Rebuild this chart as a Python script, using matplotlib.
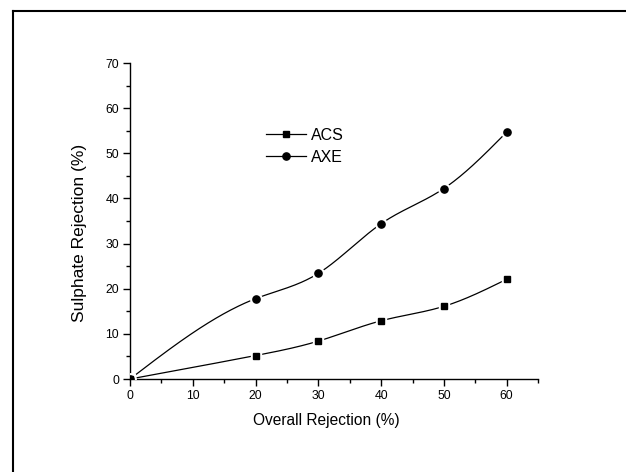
import numpy as np
import matplotlib
matplotlib.use("Agg")
import matplotlib.pyplot as plt
from matplotlib.lines import Line2D
from matplotlib.ticker import MultipleLocator

overall = [0, 20, 30, 40, 50, 60]
acs = [0, 5.2, 8.4, 12.9, 16.1, 22.1]
axe = [0, 17.8, 23.4, 34.4, 42.2, 54.7]
series_names = ["ACS", "AXE"]
xlabel = "Overall Rejection (%)"
ylabel = "Sulphate Rejection (%)"

plt.rcParams['font.family'] = ['Liberation Sans', 'DejaVu Sans']


def natural_spline(x, y, n=300):
    x = np.asarray(x, float)
    y = np.asarray(y, float)
    m = len(x)
    h = np.diff(x)
    A = np.zeros((m, m))
    b = np.zeros(m)
    A[0, 0] = 1
    A[-1, -1] = 1
    for i in range(1, m - 1):
        A[i, i - 1] = h[i - 1]
        A[i, i] = 2 * (h[i - 1] + h[i])
        A[i, i + 1] = h[i]
        b[i] = 6 * ((y[i + 1] - y[i]) / h[i] - (y[i] - y[i - 1]) / h[i - 1])
    M = np.linalg.solve(A, b)
    xs = np.linspace(x[0], x[-1], n)
    ys = np.empty_like(xs)
    for k, xv in enumerate(xs):
        i = min(np.searchsorted(x, xv, side='right') - 1, m - 2)
        t1 = x[i + 1] - xv
        t0 = xv - x[i]
        ys[k] = (M[i] * t1 ** 3 / (6 * h[i]) + M[i + 1] * t0 ** 3 / (6 * h[i])
                 + (y[i] / h[i] - M[i] * h[i] / 6) * t1
                 + (y[i + 1] / h[i] - M[i + 1] * h[i] / 6) * t0)
    return xs, ys


fig = plt.figure(figsize=(6.26, 4.72), dpi=100)
ax = fig.add_axes([0.2077, 0.197, 0.6518, 0.6695])

markers = ['s', 'o']
sizes = [4.6, 5.2]
handles = []
for name, vals, mk, ms in zip(series_names, [acs, axe], markers, sizes):
    xs, ys = natural_spline(overall, vals)
    ax.plot(xs, ys, color='black', lw=0.9, zorder=2)
    ax.plot(overall, vals, ls='none', marker=mk, ms=ms + 3, mfc='white', mec='white', zorder=3)
    ax.plot(overall, vals, ls='none', marker=mk, ms=ms, mfc='black', mec='black', zorder=4)
    handles.append(Line2D([], [], color='black', lw=0.9, marker=mk, ms=ms, mfc='black', mec='black'))

ax.set_xlim(0, 65)
ax.set_ylim(0, 70)
ax.spines['top'].set_visible(False)
ax.spines['right'].set_visible(False)
for s in ['left', 'bottom']:
    ax.spines[s].set_linewidth(1.0)
ax.xaxis.set_major_locator(MultipleLocator(10))
ax.xaxis.set_minor_locator(MultipleLocator(5))
ax.yaxis.set_major_locator(MultipleLocator(10))
ax.yaxis.set_minor_locator(MultipleLocator(5))
ax.tick_params(which='major', direction='out', length=5, width=1.0, labelsize=8.8, pad=3)
ax.tick_params(which='minor', direction='out', length=3, width=1.0)

ax.set_xlabel(xlabel, fontsize=11.2)
ax.set_ylabel(ylabel, fontsize=12.5)
ax.xaxis.set_label_coords(0.48, -0.107)
ax.yaxis.set_label_coords(-0.105, 0.462)

ax.legend(handles, series_names, loc='upper left', bbox_to_anchor=(0.333, 0.795),
          frameon=False, fontsize=11.5, handlelength=2.5, handletextpad=0.3,
          borderpad=0, borderaxespad=0, labelspacing=0.45)

# outer frame (top and left edges visible)
fig.add_artist(Line2D([13 / 626, 13 / 626], [0, 1 - 11 / 472], transform=fig.transFigure,
                      color='black', lw=1.5))
fig.add_artist(Line2D([13 / 626, 1], [1 - 11 / 472, 1 - 11 / 472], transform=fig.transFigure,
                      color='black', lw=1.5))

fig.savefig("out.png", dpi=100)
